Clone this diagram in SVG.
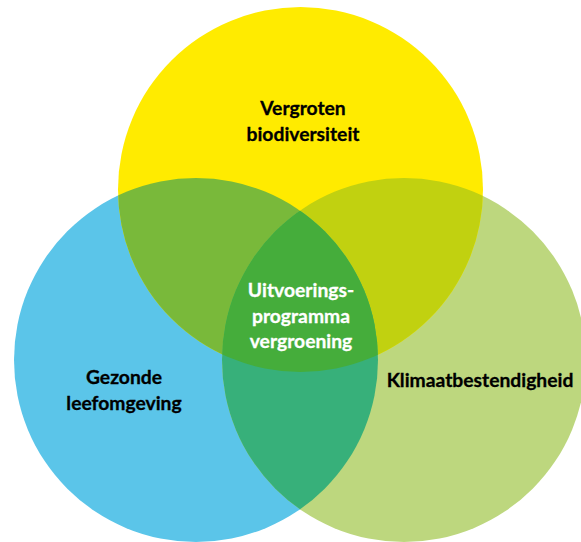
<svg xmlns="http://www.w3.org/2000/svg" width="581" height="542" viewBox="0 0 581 542">
  <style>
    .lbl { font-family: Lato, "Open Sans", "Liberation Sans", sans-serif; font-weight: bold; font-size: 19.3px; text-anchor: middle; fill: #000; stroke: #000; stroke-width: 0.3px; }
    .lbl.inv { fill: #fff; stroke: #fff; }
  </style>
  <defs>
    <circle id="cY" cx="300.5" cy="189.5" r="182.5"/>
    <circle id="cB" cx="196" cy="360" r="182"/>
    <circle id="cG" cx="404" cy="360" r="182"/>
    <clipPath id="clipY"><use href="#cY"/></clipPath>
    <clipPath id="clipB"><use href="#cB"/></clipPath>
    <clipPath id="clipG"><use href="#cG"/></clipPath>
  </defs>
  <rect width="581" height="542" fill="#fff"/>

  <!-- base circles -->
  <g id="node-gezond">
    <use href="#cB" fill="#5BC5E9"/>
  </g>
  <g id="node-klimaat">
    <use href="#cG" fill="#BDD77E"/>
  </g>
  <g id="node-biodiversiteit">
    <use href="#cY" fill="#FFEB00"/>
  </g>

  <!-- pairwise overlaps -->
  <g id="overlaps">
    <use href="#cY" fill="#79B93A" clip-path="url(#clipB)"/>
    <use href="#cY" fill="#C1D110" clip-path="url(#clipG)"/>
    <use href="#cB" fill="#37B07A" clip-path="url(#clipG)"/>
  </g>

  <!-- common centre -->
  <g id="node-centrum">
    <g clip-path="url(#clipG)">
      <use href="#cY" fill="#45AD3B" clip-path="url(#clipB)"/>
    </g>
  </g>

  <g id="connectors"></g>

  <!-- labels -->
  <g id="labels">
    <text class="lbl" x="303" y="115">Vergroten</text>
    <text class="lbl" x="303" y="141">biodiversiteit</text>
    <text class="lbl" x="124" y="384">Gezonde</text>
    <text class="lbl" x="124" y="410">leefomgeving</text>
    <text class="lbl" x="480" y="387">Klimaatbestendigheid</text>
    <text class="lbl inv" x="301" y="297">Uitvoerings-</text>
    <text class="lbl inv" x="301" y="323">programma</text>
    <text class="lbl inv" x="301" y="348">vergroening</text>
  </g>
</svg>
